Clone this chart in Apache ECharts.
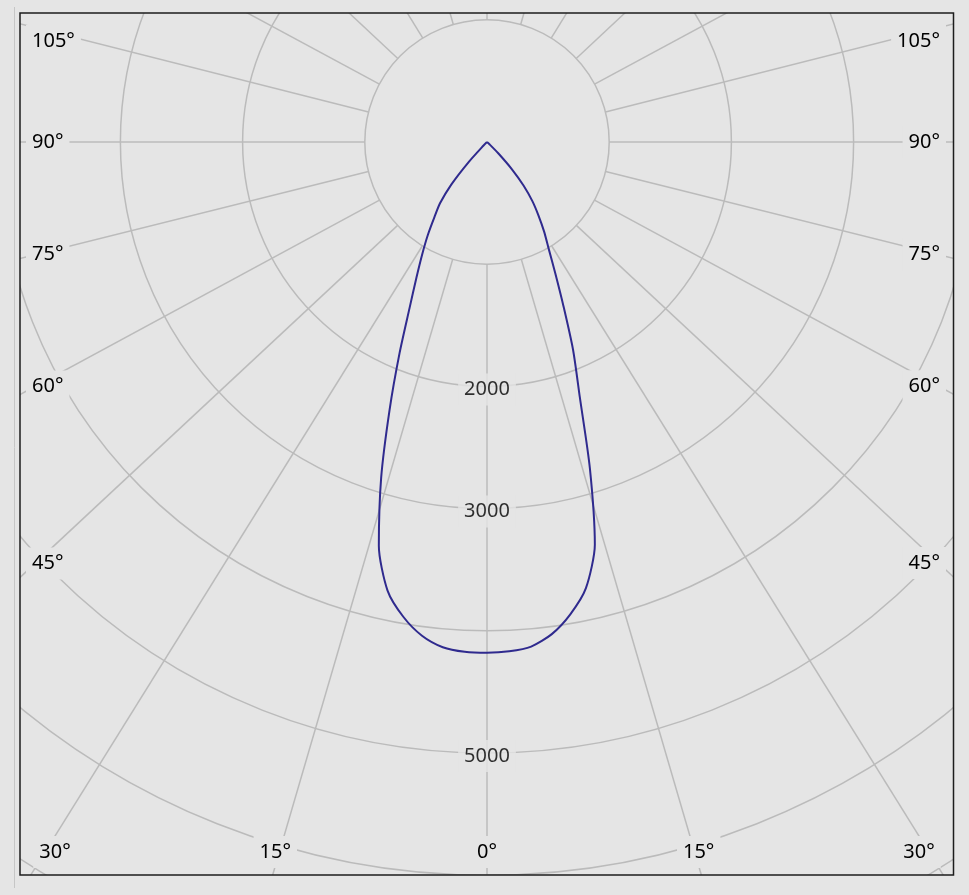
<!DOCTYPE html>
<html>
<head>
<meta charset="utf-8">
<script src="https://cdn.jsdelivr.net/npm/echarts@6.0.0/dist/echarts.min.js"></script>
<style>
  html, body { margin: 0; padding: 0; background: #e5e5e5; }
  #chart { width: 969px; height: 895px; }
</style>
</head>
<body>
<div id="chart"></div>
<script>
// ---- Data (angles in degrees from nadir, intensity in cd) ----
const leftAngles  = [0, 2.5, 5, 7.5, 10, 12.5, 15, 17.5, 20, 22.5, 25, 27.5, 30, 32.5, 35, 37.5, 40, 42.5, 45, 47.5, 90, 180];
const leftValues  = [4180, 4176, 4150, 4075, 3945, 3760, 3420, 2880, 2330, 1870, 1500, 1250, 1060, 900, 750, 630, 455, 220, 40, 0, 0, 0];
const rightAngles = [0, 2.5, 5, 7.5, 10, 12.5, 15, 17.5, 20, 22.5, 25, 27.5, 30, 32.5, 35, 37.5, 40, 42.5, 45, 47.5, 50, 90, 180];
const rightValues = [4180, 4172, 4145, 4062, 3925, 3740, 3410, 2800, 2220, 1840, 1480, 1210, 1010, 870, 735, 610, 465, 300, 130, 30, 0, 0, 0];

// Radial grid lines as drawn in the picture (degrees from nadir) and their labels
const spokeAngles = [0, 16.3, 31.9, 47, 61.6, 76, 90, 104.2, 118.3, 133.1, 148.3, 164, 180];
const spokeLabels = ['0°', '15°', '30°', '45°', '60°', '75°', '90°', '105°', '120°', '135°', '150°', '165°', '180°'];

// Intensity rings
const ringStep = 1000;
const ringMax = 7500;
const ringLabels = [2000, 3000, 5000];

// ---- Layout / style ----
const CX = 487, CY = 142;
const PX_PER_CD = 0.1222;
const FRAME = { l: 20, t: 13, r: 953.5, b: 875 };
const BG = '#e5e5e5';
const GRID = '#bbbbbb';
const FONT = '"Noto Sans", "Open Sans", sans-serif';
const PAD = 6;

const chart = echarts.init(document.getElementById('chart'));

// angle (deg from nadir), side: +1 left, -1 right -> angle-axis value
function axisAngle(a, side) { return side > 0 ? a : 360 - a; }

// curve: right branch (top -> nadir) then left branch (nadir -> top)
const curve = [];
for (let i = rightAngles.length - 1; i >= 0; i--) curve.push([rightValues[i], axisAngle(rightAngles[i], -1)]);
for (let i = 0; i < leftAngles.length; i++) curve.push([leftValues[i], axisAngle(leftAngles[i], 1)]);

// spokes, from the first ring outward
const spokeSeries = [];
spokeAngles.forEach((a) => {
  const sides = (a === 0 || a === 180) ? [1] : [1, -1];
  sides.forEach(s => {
    spokeSeries.push({
      type: 'line', coordinateSystem: 'polar', silent: true, z: 1,
      symbol: 'none', animation: false,
      lineStyle: { color: GRID, width: 1.5 },
      data: [[ringStep, axisAngle(a, s)], [ringMax, axisAngle(a, s)]]
    });
  });
});

// angle labels placed where each spoke meets the frame
const labelGraphics = [];
spokeAngles.forEach((a, i) => {
  const sides = (a === 0 || a === 180) ? [1] : [1, -1];
  sides.forEach(s => {
    const rad = a * Math.PI / 180;
    const dx = -s * Math.sin(rad);
    const dy = Math.cos(rad);
    const tB = dy > 1e-9 ? (FRAME.b - CY) / dy : Infinity;
    const tT = dy < -1e-9 ? (CY - FRAME.t) / -dy : Infinity;
    const tS = Math.abs(dx) > 1e-9 ? (dx < 0 ? (CX - FRAME.l) : (FRAME.r - CX)) / Math.abs(dx) : Infinity;
    if (tT < Math.min(tB, tS)) return;
    let x, y, align;
    if (tB <= tS) {
      x = CX + dx / dy * (866 - CY);
      x = Math.max(CX - 432, Math.min(CX + 432, x));
      y = 852; align = 'center';
    } else {
      const xRef = dx < 0 ? 35 : 938.5;
      y = CY + dy / Math.abs(dx) * Math.abs(xRef - CX);
      y = Math.max(41, y);
      x = dx < 0 ? 32 - PAD : 940 + PAD;
      align = dx < 0 ? 'left' : 'right';
    }
    labelGraphics.push({
      type: 'text', x: x, y: y, z: 102, silent: true,
      style: {
        text: spokeLabels[i], fill: '#000', fontSize: 20, fontFamily: FONT,
        align: align, verticalAlign: 'middle',
        backgroundColor: BG, padding: [PAD, PAD]
      }
    });
  });
});

const option = {
  backgroundColor: BG,
  animation: false,
  polar: { center: [CX, CY], radius: ringMax * PX_PER_CD },
  angleAxis: {
    type: 'value', min: 0, max: 360, startAngle: 270, clockwise: true,
    axisLine: { show: false }, axisTick: { show: false },
    axisLabel: { show: false }, splitLine: { show: false }
  },
  radiusAxis: {
    type: 'value', min: 0, max: ringMax, interval: ringStep,
    axisLine: { show: false }, axisTick: { show: false },
    axisLabel: { show: false },
    splitLine: { show: true, lineStyle: { color: GRID, width: 1.5 } }
  },
  series: spokeSeries.concat([
    {
      type: 'line', coordinateSystem: 'polar', name: 'I (cd)', z: 3,
      symbol: 'none', smooth: 0.25, animation: false,
      lineStyle: { color: '#2f2a8e', width: 2 },
      data: curve
    },
    {
      type: 'scatter', coordinateSystem: 'polar', z: 4, silent: true,
      symbolSize: 1, itemStyle: { color: 'rgba(0,0,0,0)' },
      data: ringLabels.map(v => [v, 0]),
      label: {
        show: true, position: 'inside', offset: [0, 3],
        formatter: p => String(p.value[0]),
        color: '#000', fontSize: 20, fontFamily: FONT,
        backgroundColor: BG, padding: [PAD, PAD]
      }
    }
  ]),
  graphic: [
    { type: 'rect', z: 100, silent: true, shape: { x: 0, y: 0, width: 969, height: FRAME.t }, style: { fill: BG } },
    { type: 'rect', z: 100, silent: true, shape: { x: 0, y: FRAME.b, width: 969, height: 895 - FRAME.b }, style: { fill: BG } },
    { type: 'rect', z: 100, silent: true, shape: { x: 0, y: 0, width: FRAME.l, height: 895 }, style: { fill: BG } },
    { type: 'rect', z: 100, silent: true, shape: { x: FRAME.r, y: 0, width: 969 - FRAME.r, height: 895 }, style: { fill: BG } },
    { type: 'line', z: 101, silent: true, shape: { x1: 14.5, y1: 7, x2: 14.5, y2: 888 }, style: { stroke: '#c6c6c6', lineWidth: 1 } },
    { type: 'rect', z: 101, silent: true, shape: { x: FRAME.l, y: FRAME.t, width: FRAME.r - FRAME.l, height: FRAME.b - FRAME.t }, style: { fill: 'none', stroke: '#1c1c1c', lineWidth: 1.5 } }
  ].concat(labelGraphics)
};

chart.setOption(option);
</script>
</body>
</html>
